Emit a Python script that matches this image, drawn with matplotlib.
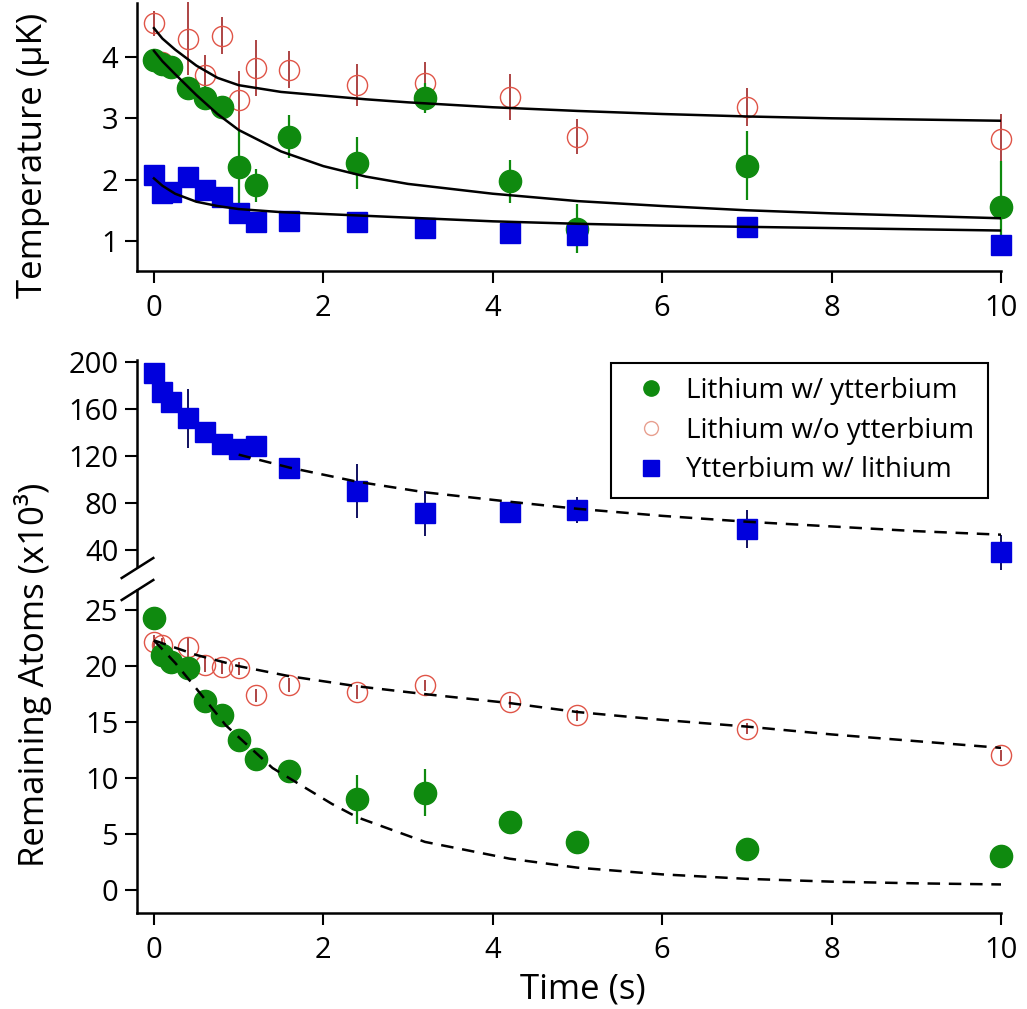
import matplotlib
matplotlib.use("Agg")
import matplotlib.pyplot as plt
from matplotlib.lines import Line2D

plt.rcParams['font.family'] = ['Open Sans', 'DejaVu Sans']

# ---- temperature panel data (uK) ----
t_li_yb = [0, 0.1, 0.2, 0.4, 0.6, 0.8, 1.0, 1.2, 1.6, 2.4, 3.2, 4.2, 5, 7, 10]
T_li_yb = [3.95, 3.88, 3.84, 3.49, 3.33, 3.19, 2.21, 1.91, 2.70, 2.27, 3.33, 1.97, 1.20, 2.23, 1.56]
T_li_yb_err = [0.1, 0.1, 0.1, 0.15, 0.2, 0.15, 0.6, 0.27, 0.35, 0.42, 0.25, 0.35, 0.4, 0.57, 0.75]

t_li = [0, 0.1, 0.4, 0.6, 0.8, 1.0, 1.2, 1.6, 2.4, 3.2, 4.2, 5, 7, 10]
T_li = [4.55, 3.92, 4.30, 3.71, 4.35, 3.30, 3.82, 3.79, 3.54, 3.57, 3.35, 2.70, 3.19, 2.67]
T_li_err = [0.2, 0.15, 0.6, 0.33, 0.3, 0.47, 0.46, 0.3, 0.34, 0.35, 0.37, 0.29, 0.31, 0.4]

t_yb = [0, 0.1, 0.2, 0.4, 0.6, 0.8, 1.0, 1.2, 1.6, 2.4, 3.2, 4.2, 5, 7, 10]
T_yb = [2.08, 1.78, 1.80, 2.04, 1.83, 1.72, 1.45, 1.31, 1.33, 1.31, 1.21, 1.13, 1.10, 1.23, 0.94]
T_yb_err = [0.1, 0.1, 0.1, 0.12, 0.1, 0.1, 0.1, 0.1, 0.15, 0.1, 0.08, 0.08, 0.15, 0.1, 0.15]

# fit curves
fit_t_a = [0, 0.1, 0.25, 0.5, 0.75, 1.0, 1.5, 2, 2.5, 3, 4, 5, 6, 7, 8, 9, 10]
fit_T_li = [4.47, 4.30, 4.12, 3.86, 3.66, 3.54, 3.43, 3.37, 3.31, 3.26, 3.18, 3.12, 3.07, 3.03, 3.00, 2.98, 2.96]
fit_T_li_yb = [4.10, 3.93, 3.72, 3.38, 3.07, 2.81, 2.46, 2.22, 2.05, 1.93, 1.77, 1.65, 1.57, 1.50, 1.45, 1.41, 1.37]
fit_t_b = [0, 0.1, 0.25, 0.5, 0.75, 1, 1.5, 2, 3, 4, 5, 6, 7, 8, 9, 10]
fit_T_yb = [2.02, 1.90, 1.77, 1.64, 1.57, 1.52, 1.47, 1.44, 1.38, 1.32, 1.28, 1.25, 1.23, 1.21, 1.19, 1.17]

# ---- atom number panel data (x10^3) ----
N_yb = [190, 174, 166, 152, 140, 130, 126, 128, 110, 90, 71, 72, 74, 58, 38]
N_yb_err = [4, 4, 4, 25, 4, 4, 4, 4, 5, 23, 19, 4, 11, 16, 15]
N_li_yb = [24.3, 21.0, 20.4, 19.8, 16.9, 15.6, 13.4, 11.7, 10.6, 8.1, 8.7, 6.1, 4.3, 3.7, 3.0]
N_li_yb_err = [0.5, 0.5, 0.5, 0.5, 0.5, 0.5, 0.5, 0.5, 0.5, 2.2, 2.1, 1.0, 0.3, 0.3, 0.3]
N_li = [22.2, 21.9, 21.7, 20.1, 19.9, 19.8, 17.4, 18.3, 17.7, 18.3, 16.8, 15.6, 14.4, 12.05]
N_li_err = [0.6, 0.6, 0.9, 0.6, 0.6, 0.6, 0.6, 0.6, 0.6, 0.5, 0.5, 0.5, 0.5, 0.5]

fit_t_yb = [1.0, 1.6, 2.4, 3.2, 4.2, 5, 6, 7, 8, 9, 10]
fit_N_yb = [121, 110, 98, 89, 81, 75, 69, 64, 60, 56, 53]
fit_t_li = [0, 0.5, 1, 1.6, 2.4, 3.2, 4.2, 5, 6, 7, 8, 9, 10]
fit_N_li = [22.3, 21.0, 20.0, 19.1, 18.2, 17.5, 16.7, 15.9, 15.2, 14.6, 13.9, 13.3, 12.7]
fit_t_liyb = [0, 0.25, 0.5, 0.85, 1.4, 2.1, 2.4, 3.2, 4.2, 5, 6, 7, 8, 9, 10]
fit_N_liyb = [22.3, 20.3, 18.0, 14.7, 10.9, 7.7, 6.5, 4.3, 2.8, 2.0, 1.4, 1.0, 0.75, 0.6, 0.5]

labels = ["Lithium w/ ytterbium", "Lithium w/o ytterbium", "Ytterbium w/ lithium"]
green = '#0f8a0f'
red = '#e05548'
red_dark = '#a02525'
blue = '#0000dd'

W, H = 1027, 1009
fig = plt.figure(figsize=(W / 100, H / 100), dpi=100)


def rect(l, t, r, b):
    return [l / W, 1 - b / H, (r - l) / W, (b - t) / H]


def style(ax, bottom=True):
    ax.spines['top'].set_visible(False)
    ax.spines['right'].set_visible(False)
    for s in ('left', 'bottom'):
        ax.spines[s].set_linewidth(1.8)
    ax.tick_params(direction='out', length=8.5, width=1.5, labelsize=21, pad=5)
    ax.tick_params(axis='x', pad=8)
    ax.set_xlim(-0.2, 10)
    ax.set_xticks([0, 2, 4, 6, 8, 10])
    if not bottom:
        ax.spines['bottom'].set_visible(False)
        ax.tick_params(axis='x', bottom=False, labelbottom=False)


def draw(ax, t, y, err, kind):
    if kind == 'green':
        c = ax.errorbar(t, y, yerr=err, fmt='o', ms=16, color=green, ecolor=green,
                        elinewidth=1.6, capsize=0, zorder=4)
    elif kind == 'red':
        c = ax.errorbar(t, y, yerr=err, fmt='o', ms=14.5, mfc='none', mec=red, mew=1.0,
                        ecolor=red_dark, elinewidth=1.2, capsize=0, zorder=3)
    else:
        c = ax.errorbar(t, y, yerr=err, fmt='s', ms=14.5, color=blue, ecolor='#101060',
                        elinewidth=1.4, capsize=0, zorder=5)
    for a in c.get_children():
        a.set_clip_on(False)


# ---- top panel ----
ax1 = fig.add_axes(rect(137, 3, 1001, 271))
style(ax1)
ax1.set_ylim(0.51, 4.88)
ax1.set_yticks([1, 2, 3, 4])
draw(ax1, t_li, T_li, T_li_err, 'red')
draw(ax1, t_li_yb, T_li_yb, T_li_yb_err, 'green')
draw(ax1, t_yb, T_yb, T_yb_err, 'blue')
for ft, fy in [(fit_t_a, fit_T_li), (fit_t_a, fit_T_li_yb), (fit_t_b, fit_T_yb)]:
    ax1.plot(ft, fy, color='black', lw=1.8, zorder=6)
fig.text(33 / W, 1 - 155 / H, "Temperature (µK)", fontsize=25, rotation=90,
         ha='center', va='center')

# ---- bottom panel, upper part (ytterbium) ----
ax2 = fig.add_axes(rect(137, 360, 1001, 566))
style(ax2, bottom=False)
ax2.set_ylim(26.4, 201.4)
ax2.set_yticks([40, 80, 120, 160, 200])
ax2.plot(fit_t_yb, fit_N_yb, color='black', lw=1.8, ls=(0, (5, 3.5)), zorder=6)
draw(ax2, t_yb, N_yb, N_yb_err, 'blue')

# ---- bottom panel, lower part (lithium) ----
ax3 = fig.add_axes(rect(137, 590, 1001, 913))
style(ax3)
ax3.set_ylim(-2.05, 26.8)
ax3.set_yticks([0, 5, 10, 15, 20, 25])
draw(ax3, t_li, N_li, N_li_err, 'red')
draw(ax3, t_li_yb, N_li_yb, N_li_yb_err, 'green')
ax3.plot(fit_t_li, fit_N_li, color='black', lw=1.8, ls=(0, (5, 3.5)), zorder=6)
ax3.plot(fit_t_liyb, fit_N_liyb, color='black', lw=1.8, ls=(0, (5, 3.5)), zorder=6)
fig.text(583 / W, 1 - 990 / H, "Time (s)", fontsize=25, ha='center', va='center')
fig.text(33 / W, 1 - 675 / H, "Remaining Atoms (x10³)", fontsize=25, rotation=90,
         ha='center', va='center')

# axis break marks
for y0 in (578, 600):
    fig.add_artist(Line2D([121.7 / W, 153.3 / W], [1 - y0 / H, 1 - (y0 - 20) / H],
                          color='black', lw=1.8))

handles = [
    Line2D([], [], ls='none', marker='o', ms=11, color=green),
    Line2D([], [], ls='none', marker='o', ms=10, mfc='none', mec='#e8a090', mew=1.0),
    Line2D([], [], ls='none', marker='s', ms=11, color=blue),
]
leg = fig.legend(handles, labels, loc='upper right', bbox_to_anchor=(988 / W, 1 - 363 / H),
                 fontsize=20, frameon=True, fancybox=False, edgecolor='black', framealpha=1,
                 borderpad=0.5, handlelength=1.9, handletextpad=0.3, labelspacing=0.42,
                 borderaxespad=0)
leg.get_frame().set_linewidth(1.5)

fig.savefig("out.png", dpi=100)
